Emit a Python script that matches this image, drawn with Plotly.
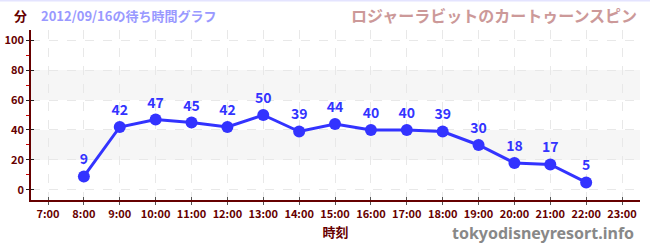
import plotly.graph_objects as go

hours = [8, 9, 10, 11, 12, 13, 14, 15, 16, 17, 18, 19, 20, 21, 22]
waits = [9, 42, 47, 45, 42, 50, 39, 44, 40, 40, 39, 30, 18, 17, 5]
tick_hours = list(range(7, 24))
tick_labels = [f"{h}:00" for h in tick_hours]
y_ticks = [0, 20, 40, 60, 80, 100]
bands = [(20, 40), (60, 80)]

FONT = "Noto Sans CJK JP"
DARK = "#660000"

fig = go.Figure()
fig.add_trace(go.Scatter(
    x=hours, y=waits, mode="lines+markers+text",
    text=[str(v) for v in waits], textposition="top center",
    textfont=dict(family=FONT, size=14, color="#3333ff", weight="bold"),
    line=dict(color="#3333ff", width=3),
    marker=dict(color="#3333ff", size=12),
    cliponaxis=False, showlegend=False,
))
fig.add_trace(go.Scatter(x=[hours[0]], y=[waits[0]], xaxis="x2", yaxis="y2",
                         mode="markers", marker=dict(opacity=0), showlegend=False,
                         hoverinfo="skip"))

for lo, hi in bands:
    fig.add_shape(type="rect", xref="paper", yref="y", x0=0, x1=1, y0=lo, y1=hi,
                  fillcolor="#f6f6f6", line=dict(width=0), layer="below")

fig.add_shape(type="line", xref="paper", yref="paper", x0=-1, x1=2, y0=1.174, y1=1.174,
              line=dict(color="#e4e4ff", width=2))

xr = [6.526, 23.5]
yr = [-6.7, 106.7]
fig.update_layout(
    width=650, height=250,
    margin=dict(l=31, r=10, t=30, b=50),
    paper_bgcolor="white", plot_bgcolor="white",
    font=dict(family=FONT, color=DARK),
    xaxis=dict(range=xr, tickvals=tick_hours, ticktext=tick_labels, automargin=False,
               showgrid=True, gridcolor="#e8e8e8", griddash="dash", gridwidth=1,
               showline=True, linecolor=DARK, linewidth=1.5,
               ticks="outside", ticklen=3, tickcolor="#555555",
               tickfont=dict(family=FONT, size=11, color=DARK, weight="bold"),
               zeroline=False,
               title=dict(text="時刻", font=dict(family=FONT, size=13, color=DARK, weight="bold"), standoff=8)),
    yaxis=dict(range=yr, tickvals=y_ticks, automargin=False,
               showgrid=True, gridcolor="#e8e8e8", griddash="dash", gridwidth=1,
               showline=True, linecolor=DARK, linewidth=1.5,
               ticks="outside", ticklen=3, tickcolor="#222222",
               minor=dict(tickvals=[10, 30, 50, 70, 90], ticks="outside", ticklen=3, tickcolor="#cc0000", showgrid=False),
               tickfont=dict(family=FONT, size=11, color=DARK, weight="bold"),
               zeroline=False),
    xaxis2=dict(range=xr, overlaying="x", tickvals=tick_hours, showticklabels=False,
                ticks="inside", ticklen=3, tickcolor="#555555", showgrid=False, zeroline=False,
                anchor="y", automargin=False),
    yaxis2=dict(range=yr, overlaying="y", tickvals=y_ticks, showticklabels=False,
                ticks="inside", ticklen=3, tickcolor="#222222", showgrid=False, zeroline=False,
                anchor="x", automargin=False),
    annotations=[
        dict(text="分", xref="paper", yref="paper", x=-0.018, y=1.088, xanchor="center", yanchor="middle",
             showarrow=False, font=dict(family=FONT, size=13, color=DARK, weight="bold")),
        dict(text="2012/09/16の待ち時間グラフ", xref="paper", yref="paper", x=0.013, y=1.088,
             xanchor="left", yanchor="middle", showarrow=False,
             font=dict(family=FONT, size=13, color="#9999ff", weight="bold")),
        dict(text="ロジャーラビットのカートゥーンスピン", xref="paper", yref="paper", x=0.998, y=1.088,
             xanchor="right", yanchor="middle", showarrow=False,
             font=dict(family=FONT, size=16, color="#cc9999", weight="bold")),
        dict(text="tokyodisneyresort.info", xref="paper", yref="paper", x=0.994, y=-0.194,
             xanchor="right", yanchor="middle", showarrow=False,
             font=dict(family="Noto Sans", size=16, color="#888888", weight="bold")),
    ],
)

fig.write_html("out.html")
